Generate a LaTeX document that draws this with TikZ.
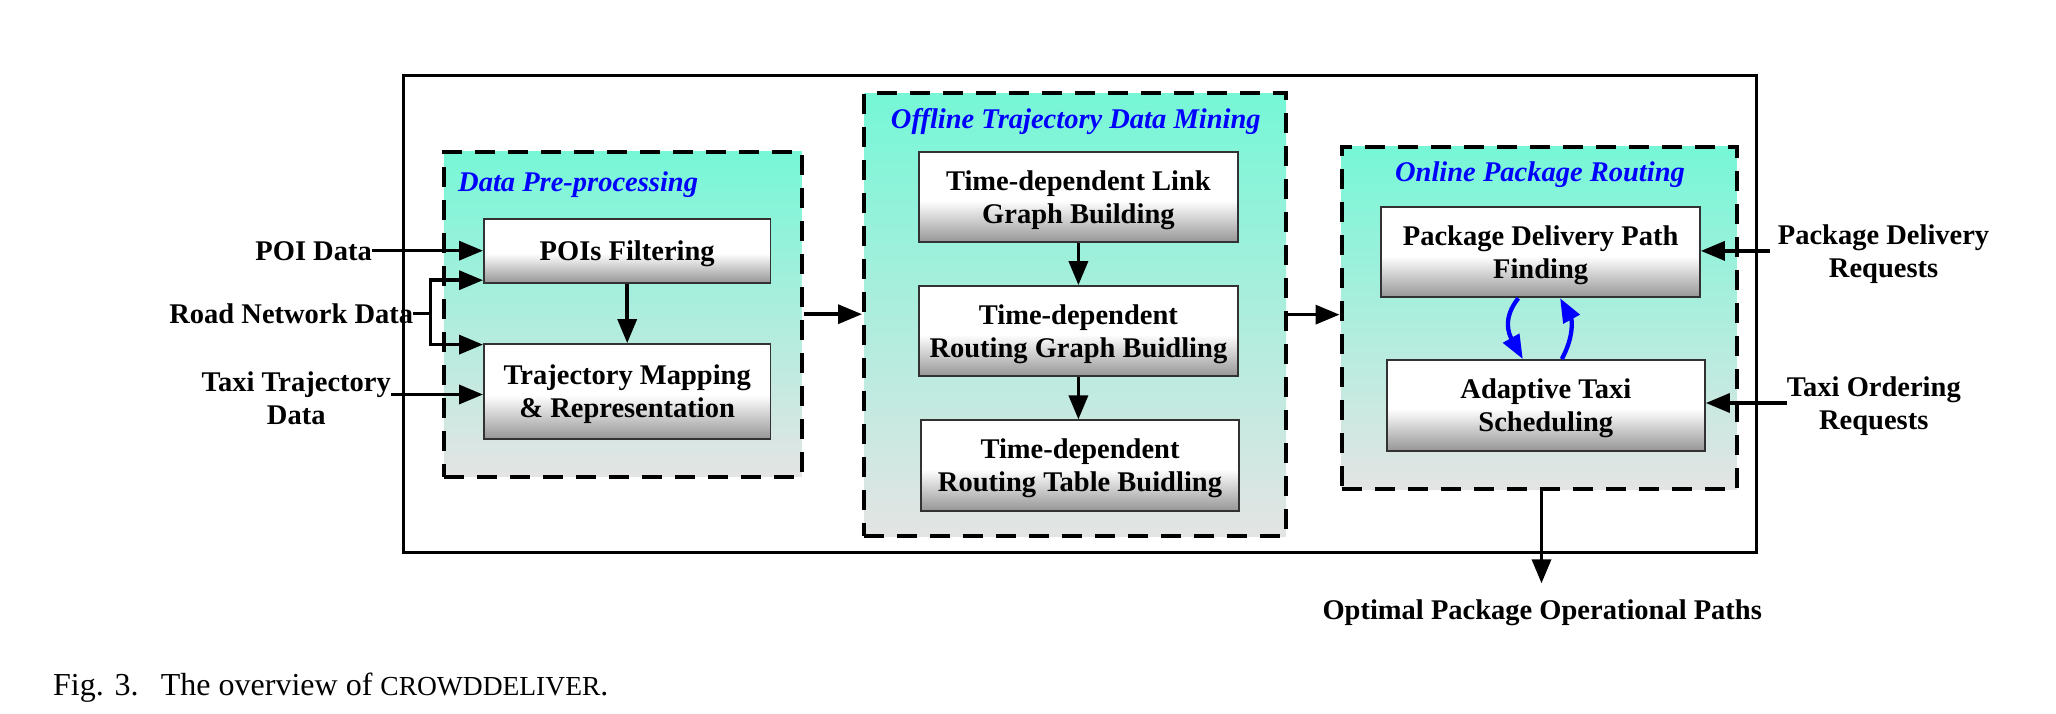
\documentclass[tikz,border=0pt]{standalone}
\usepackage{fontspec}
\setmainfont{Liberation Serif}
\usetikzlibrary{arrows.meta}
\definecolor{grptop}{RGB}{118,247,214}
\definecolor{grpbot}{RGB}{228,228,228}
\definecolor{boxbot}{RGB}{150,150,150}
\definecolor{boxedge}{RGB}{50,50,50}
\pgfdeclareverticalshading{grpshade}{100bp}{color(0bp)=(grpbot); color(25bp)=(grpbot); color(75bp)=(grptop); color(100bp)=(grptop)}
\pgfdeclareverticalshading{boxshade}{100bp}{color(0bp)=(boxbot); color(25bp)=(boxbot); color(48bp)=(white); color(100bp)=(white)}
\newcommand{\lblfont}{\fontsize{28.5}{33}\selectfont\bfseries}
\newcommand{\ttlfont}{\fontsize{28.5}{33}\selectfont\bfseries\itshape}
\tikzset{
  grp/.style={draw=black, line width=4pt, dash pattern=on 20pt off 13pt, shade, shading=grpshade, rectangle, inner sep=0pt},
  bx/.style={draw=boxedge, line width=1.8pt, shade, shading=boxshade, rectangle, align=center, inner sep=0pt, text depth=0pt, font=\lblfont},
  lab/.style={align=center, inner sep=0pt, text depth=0pt, font=\lblfont},
  ttl/.style={inner sep=0pt, text=blue, font=\ttlfont},
  arr/.style={line width=3.5pt, -{Triangle[length=24pt,width=19pt]}},
  barr/.style={draw=blue, line width=4.3pt, -{Triangle[length=24pt,width=18pt]}},
}
\begin{document}
\begin{tikzpicture}[x=1pt,y=-1pt]
\useasboundingbox (0,0) rectangle (2056,714);
% outer frame
\node[draw, line width=3pt, minimum width=1352.7pt, minimum height=476.7pt, inner sep=0pt] (outer) at (1080,314.35) {};
% groups
\node[grp, minimum width=358pt, minimum height=325pt] (dp) at (622.8,314.2) {};
\node[grp, minimum width=422pt, minimum height=442.7pt] (off) at (1075,314.65) {};
\node[grp, minimum width=395.1pt, minimum height=342.6pt] (onl) at (1539.05,318) {};
% titles
\node[ttl, anchor=base west] (dpt) at (458,191.7) {Data Pre-processing};
\node[ttl, anchor=base] (offt) at (1075.8,128.3) {Offline Trajectory Data Mining};
\node[ttl, anchor=base] (onlt) at (1540,181.7) {Online Package Routing};
% boxes
\node[bx, minimum width=286.6pt, minimum height=64pt] (pois) at (627.2,250.7) {POIs Filtering};
\node[bx, minimum width=286.6pt, minimum height=95pt] (traj) at (627.2,391.5) {Trajectory Mapping\\\& Representation};
\node[bx, minimum width=318.7pt, minimum height=90.6pt] (b1) at (1078.4,197) {Time-dependent Link\\Graph Building};
\node[bx, minimum width=318.7pt, minimum height=90pt] (b2) at (1078.4,331) {Time-dependent\\Routing Graph Buidling};
\node[bx, minimum width=318.6pt, minimum height=90.4pt] (b3) at (1080,465.5) {Time-dependent\\Routing Table Buidling};
\node[bx, minimum width=318.7pt, minimum height=90pt] (pd) at (1540.6,252.3) {Package Delivery Path\\Finding};
\node[bx, minimum width=318.3pt, minimum height=90.7pt] (at) at (1545.8,405.3) {Adaptive Taxi\\Scheduling};
% outside labels
\node[lab, anchor=east] (poi) at (372,250.7) {POI Data};
\node[lab, anchor=east] (road) at (413.4,313.5) {Road Network Data};
\node[lab, anchor=east] (taxi) at (391,398.3) {Taxi Trajectory\\Data};
\node[lab, anchor=west] (pdr) at (1777.7,250.9) {Package Delivery\\Requests};
\node[lab, anchor=west] (tor) at (1786.6,403) {Taxi Ordering\\Requests};
\node[lab] (opt) at (1542.2,610) {Optimal Package Operational Paths};
% caption
\node[anchor=base west, inner sep=0pt, font=\fontsize{32}{38}\selectfont] (cap) at (53,695) {Fig. 3.\hspace{0.7em}The overview of {\fontsize{27.5}{30}\selectfont CROWDDELIVER}.};
% connectors
\coordinate (rj) at (430.4,313.5);
\coordinate (tarr) at ([yshift=-3pt]traj.west);
\coordinate (optend) at (1541.5,583.3);
\draw[arr] (poi.east) -- (pois.west);
\draw[line width=3.5pt] (road.east) -- (rj);
\draw[arr] (rj) |- ([yshift=3.4pt]pois.south west);
\draw[arr] (rj) |- ([yshift=-1.5pt]traj.north west);
\draw[arr] (taxi.east |- tarr) -- (tarr);
\draw[arr] (pois.south) -- (traj.north);
\draw[arr] (dp.east) -- (dp.east -| off.west);
\draw[arr] (b1.south) -- (b2.north);
\draw[arr] (b2.south) -- (b2.south |- b3.north);
\draw[arr] (off.east) -- (off.east -| onl.west);
\draw[arr] ([xshift=-8pt]pdr.west) -- (pdr.west -| pd.east);
\draw[arr] (tor.west) -- (tor.west -| at.east);
\draw[arr] (optend |- onl.south) -- (optend);
\draw[barr] ([xshift=-22.3pt]pd.south) .. controls +(-16,20) and +(-14,-25) .. ([xshift=-23pt]at.north);
\draw[barr] ([xshift=16pt]at.north) .. controls +(12,-22) and +(12,22) .. ([xshift=19.5pt]pd.south);
\end{tikzpicture}
\end{document}
